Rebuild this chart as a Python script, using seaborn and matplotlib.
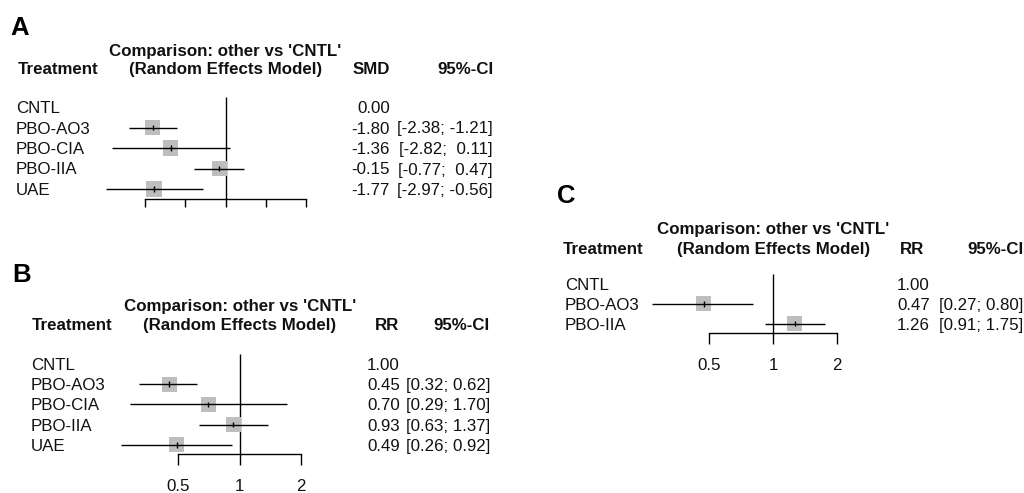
import numpy as np
import pandas as pd
import matplotlib
matplotlib.use('Agg')
import matplotlib.pyplot as plt
import matplotlib.transforms as mtransforms
from matplotlib.ticker import NullLocator
import seaborn as sns

# panel A: SMD
treat_a = ['CNTL', 'PBO-AO3', 'PBO-CIA', 'PBO-IIA', 'UAE']
smd_a = [0.00, -1.80, -1.36, -0.15, -1.77]
lower_a = [np.nan, -2.38, -2.82, -0.77, -2.97]
upper_a = [np.nan, -1.21, 0.11, 0.47, -0.56]
ticks_a = [-2, -1, 0, 1, 2]

# panel B: RR
treat_b = ['CNTL', 'PBO-AO3', 'PBO-CIA', 'PBO-IIA', 'UAE']
rr_b = [1.00, 0.45, 0.70, 0.93, 0.49]
lower_b = [np.nan, 0.32, 0.29, 0.63, 0.26]
upper_b = [np.nan, 0.62, 1.70, 1.37, 0.92]

# panel C: RR
treat_c = ['CNTL', 'PBO-AO3', 'PBO-IIA']
rr_c = [1.00, 0.47, 1.26]
lower_c = [np.nan, 0.27, 0.91]
upper_c = [np.nan, 0.80, 1.75]

ticks_rr = [0.5, 1, 2]
ticklabels_rr = ['0.5', '1', '2']

W, H = 1024, 493
TXT = '#111111'
FS = 12.2

sns.set_theme(style='white')
plt.rcParams['font.family'] = ['Liberation Sans', 'DejaVu Sans']

fig = plt.figure(figsize=(W / 100, H / 100), dpi=100)
fig.patch.set_facecolor('white')


def fx(px):
    return px / W


def fy(py):
    return 1 - py / H


def ci_strings(lo, hi):
    # common width per column, like R's format()
    los = ['{:.2f}'.format(v) for v in lo if not np.isnan(v)]
    his = ['{:.2f}'.format(v) for v in hi if not np.isnan(v)]
    wl = max(len(s) for s in los)
    wh = max(len(s) for s in his)
    out = []
    for a, b in zip(lo, hi):
        if np.isnan(a):
            out.append('')
        else:
            sa = '{:.2f}'.format(a).rjust(wl)
            sb = '{:.2f}'.format(b).rjust(wh)
            out.append('[' + sa + '; ' + sb + ']')
    return out


def forest(letter, letter_px, treat, est, lo, hi, log, zero_px, unit_px, axis_px,
           row0_px, row_px, left_px, right_px, label_px, val_px, ci_px, head_x,
           head_y, measure, ticks, ticklabels, ticklen):
    top_px = row0_px - 1.0 * row_px
    ax = fig.add_axes([fx(left_px), fy(axis_px), (right_px - left_px) / W,
                       (axis_px - top_px) / H])
    ax.set_facecolor('none')
    if log:
        ax.set_xscale('log', base=2)
        ax.set_xlim(2 ** ((left_px - zero_px) / unit_px), 2 ** ((right_px - zero_px) / unit_px))
        ref = 1
    else:
        ax.set_xlim((left_px - zero_px) / unit_px, (right_px - zero_px) / unit_px)
        ref = 0
    ybot = (axis_px - row0_px) / row_px
    ax.set_ylim(ybot, (top_px - row0_px) / row_px)

    df = pd.DataFrame({'treat': treat, 'est': est, 'lo': lo, 'hi': hi,
                       'row': np.arange(len(treat))})
    df['ci'] = ci_strings(lo, hi)
    dm = df.dropna()

    ax.vlines(ref, -0.5, ybot, color='black', lw=1, zorder=1)
    sns.scatterplot(data=dm, x='est', y='row', marker='s', s=118, color='#bebebe',
                    edgecolor='none', linewidth=0, legend=False, ax=ax, zorder=2)
    ax.hlines(dm['row'], dm['lo'], dm['hi'], color='black', lw=1, zorder=3)
    ax.vlines(dm['est'], dm['row'] - 0.14, dm['row'] + 0.14, color='black', lw=1, zorder=3)

    for s in ['top', 'left', 'right']:
        ax.spines[s].set_visible(False)
    ax.spines['bottom'].set_bounds(ticks[0], ticks[-1])
    ax.spines['bottom'].set_color('black')
    ax.spines['bottom'].set_linewidth(1)
    ax.set_xticks(ticks)
    ax.xaxis.set_minor_locator(NullLocator())
    if ticklabels is None:
        ax.set_xticklabels([])
    else:
        ax.set_xticklabels(ticklabels)
    ax.tick_params(axis='x', direction='out', length=ticklen, width=1, color='black',
                   pad=10.3, labelsize=FS, labelcolor=TXT, bottom=True)
    ax.set_yticks([])
    ax.set_xlabel('')
    ax.set_ylabel('')

    # table columns, rows tied to data rows
    tr = mtransforms.blended_transform_factory(fig.transFigure, ax.transData)
    for _, r in df.iterrows():
        y = r['row'] + 6.0 / row_px
        ax.text(fx(label_px), y, r['treat'], transform=tr, ha='left', va='baseline',
                fontsize=FS, color=TXT)
        ax.text(fx(val_px), y, '{:.2f}'.format(r['est']), transform=tr, ha='right',
                va='baseline', fontsize=FS, color=TXT)
        ax.text(fx(ci_px), y, r['ci'], transform=tr, ha='right',
                va='baseline', fontsize=FS, color=TXT)

    # headers
    lx, ly = letter_px
    fig.text(fx(lx), fy(ly), letter, fontsize=18.5, weight='bold', color='black', va='baseline')
    y1, y2 = head_y
    t0 = np.log2(ticks[0]) if log else ticks[0]
    t1 = np.log2(ticks[-1]) if log else ticks[-1]
    cx = zero_px + unit_px * (t0 + t1) / 2
    fig.text(fx(cx), fy(y1 + 6), "Comparison: other vs 'CNTL'", ha='center', va='baseline',
             fontsize=FS, weight='bold', color=TXT)
    fig.text(fx(cx), fy(y2 + 6), '(Random Effects Model)', ha='center', va='baseline',
             fontsize=FS, weight='bold', color=TXT)
    fig.text(fx(head_x[0]), fy(y2 + 6), 'Treatment', ha='left', va='baseline',
             fontsize=FS, weight='bold', color=TXT)
    fig.text(fx(head_x[1]), fy(y2 + 6), measure, ha='center', va='baseline',
             fontsize=FS, weight='bold', color=TXT)
    fig.text(fx(ci_px), fy(y2 + 6), '95%-CI', ha='right', va='baseline',
             fontsize=FS, weight='bold', color=TXT)
    return ax


forest('A', (10, 35), treat_a, smd_a, lower_a, upper_a, False, 225.5, 40.4, 198.5,
       107, 20.5, 95, 330, 16, 390, 493, (18, 371), (50, 68), 'SMD', ticks_a, None, 6)

forest('B', (12, 282), treat_b, rr_b, lower_b, upper_b, True, 239.7, 61.3, 454.3,
       364, 20.2, 100, 330, 31, 400, 490, (32, 387), (305, 324), 'RR', ticks_rr,
       ticklabels_rr, 7.7)

forest('C', (557, 203), treat_c, rr_c, lower_c, upper_c, True, 773.3, 64, 333.3,
       284, 19.8, 640, 870, 565, 930, 1023, (563, 912), (228, 248), 'RR', ticks_rr,
       ticklabels_rr, 7.7)

fig.savefig('out.png', dpi=100, facecolor='white')
